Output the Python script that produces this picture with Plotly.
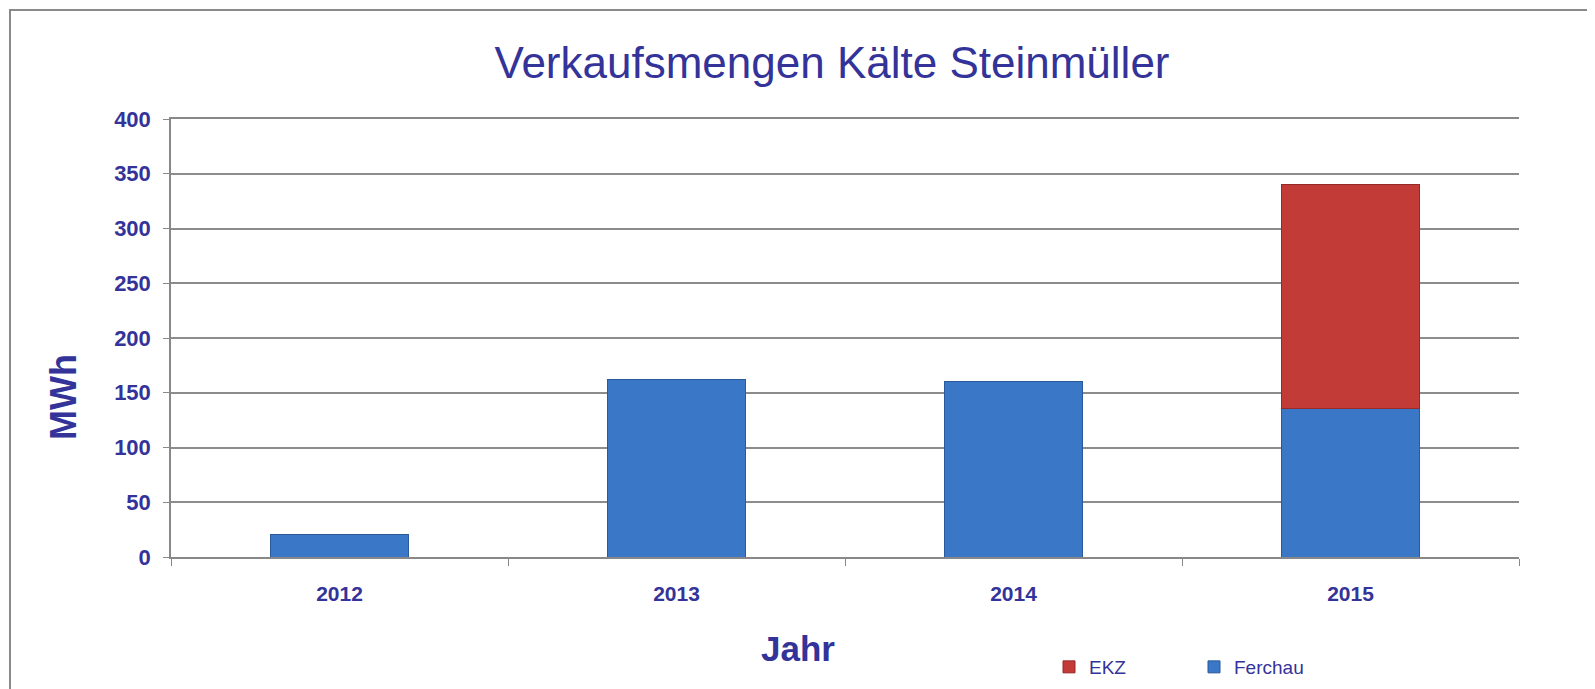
import plotly.graph_objects as go

years = ["2012", "2013", "2014", "2015"]
ferchau = [21, 162, 160, 136]
ekz = [None, None, None, 204]
y_ticks = [0, 50, 100, 150, 200, 250, 300, 350, 400]

NAVY = "#333399"
FONT = "Arial, Liberation Sans, sans-serif"

fig = go.Figure()
fig.add_trace(go.Bar(
    x=years, y=ferchau, name="Ferchau",
    marker=dict(color="#3A77C6", line=dict(color="#2A5A9A", width=1)),
))
fig.add_trace(go.Bar(
    x=years, y=ekz, name="EKZ",
    marker=dict(color="#C23B37", line=dict(color="#962A28", width=1)),
))

# page body has an 8px margin
OFF = 8
W, H = 1595 - OFF, 689 - OFF
L, T = 171 - OFF, 119 - OFF
pw, ph = 1348, 438
R, B = W - L - pw, H - T - ph

def px_x(x):
    return (x - OFF - L) / pw

def px_y(y):
    return (T + ph - (y - OFF)) / ph

fig.update_layout(
    width=W, height=H,
    barmode="stack", bargap=0.59,
    paper_bgcolor="white", plot_bgcolor="white",
    margin=dict(l=L, r=R, t=T, b=B, autoexpand=False),
    font=dict(family=FONT, color=NAVY),
    title=dict(text="Verkaufsmengen Kälte Steinmüller", x=(832 - OFF) / W, xanchor="center",
               y=1 - (63 - OFF) / H, yanchor="middle",
               font=dict(size=44, color=NAVY, family=FONT)),
    showlegend=True,
    legend=dict(orientation="h", traceorder="reversed", x=px_x(1049), xanchor="left",
                y=px_y(667), yanchor="middle",
                font=dict(size=19, color=NAVY, family=FONT), itemwidth=30,
                entrywidth=100, bgcolor="rgba(0,0,0,0)"),
    xaxis=dict(
        showgrid=False, showline=True, mirror=True, linecolor="#888888", linewidth=1.5,
        ticks="outside", tickson="boundaries", ticklen=7, tickcolor="#888888",
        tickfont=dict(size=21, color=NAVY, family=FONT, weight="bold"),
        ticklabelstandoff=17,
    ),
    yaxis=dict(
        range=[0, 400], tickvals=y_ticks,
        showgrid=True, gridcolor="#8c8c8c", gridwidth=1.5,
        showline=True, linecolor="#888888", linewidth=1.5,
        ticks="outside", ticklen=6, tickcolor="#888888",
        tickfont=dict(size=22, color=NAVY, family=FONT, weight="bold"),
        ticklabelstandoff=8,
        zeroline=False,
    ),
    annotations=[
        dict(text="<b>MWh</b>", xref="paper", yref="paper", x=px_x(63), y=px_y(397),
             xanchor="center", yanchor="middle", textangle=-90, showarrow=False,
             font=dict(size=36, color=NAVY, family=FONT)),
        dict(text="<b>Jahr</b>", xref="paper", yref="paper", x=px_x(798), y=px_y(648),
             xanchor="center", yanchor="middle", showarrow=False,
             font=dict(size=35, color=NAVY, family=FONT)),
    ],
    shapes=[dict(type="rect", xref="paper", yref="paper",
                 x0=px_x(10), x1=px_x(1620),
                 y0=px_y(720), y1=px_y(10),
                 line=dict(color="#8a8a8a", width=2), fillcolor="rgba(0,0,0,0)", layer="below")],
)

fig.write_html("out.html")
